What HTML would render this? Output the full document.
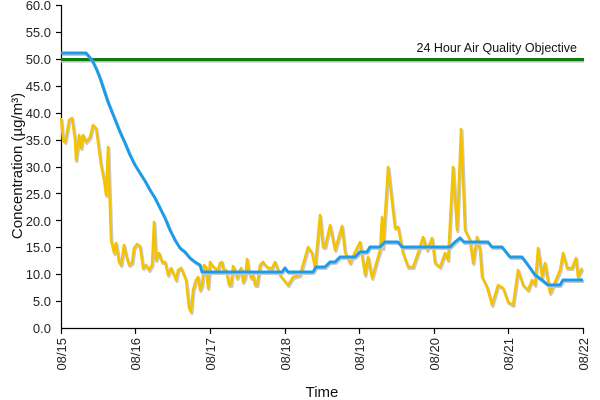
<!DOCTYPE html>
<html><head><style>body{margin:0;background:#fff}svg{display:block;font-family:"Liberation Sans",Arial,sans-serif}</style></head>
<body>
<svg width="600" height="400" viewBox="0 0 600 400">
<defs>
<polyline id="yl" fill="none" stroke-linejoin="round" points="61,118 63,140 65,142 67,132 69,120 72,118 75,140 76,160 79,135 81,148 83,135 86,142 90,137 93,125 96,128 99,150 101,165 104,180 106,195 108,147 109,180 111,240 114,253 116,243 119,262 121,265 124,245 126,255 129,265 132,263 134,248 137,244 140,246 143,268 146,265 149,270 152,265 154,222 156,260 159,253 162,262 165,262 168,275 171,268 174,275 176,280 178,270 181,268 184,275 186,280 189,308 191,312 193,290 196,280 198,277 200,290 202,285 204,265 206,267 208,288 210,262 212,265 215,268 218,270 220,263 222,262 224,272 226,270 229,285 231,285 233,266 235,270 237,278 239,272 241,268 243,282 245,278 247,259 249,272 251,278 253,275 255,285 257,285 260,265 263,262 266,266 269,268 272,268 275,262 278,270 280,275 288,285 293,277 300,275 308,247 312,253 315,268 320,215 323,247 325,247 330,225 335,250 342,226 345,252 350,263 355,252 360,242 365,275 368,257 372,278 380,250 382,217 383,248 388,167 395,228 398,227 403,253 408,267 413,267 418,253 423,237 427,250 432,238 435,263 440,267 445,253 448,260 453,167 457,230 461,129 465,230 470,240 473,263 477,237 480,250 482,277 487,287 492,305 498,285 503,288 508,302 513,305 518,270 523,285 528,290 532,280 535,285 538,248 542,277 545,263 550,293 555,282 560,270 563,253 567,268 572,268 576,258 578,277 582,268"/>
<polyline id="bl" fill="none" stroke-linejoin="round" points="61,53 86,53 92,60 96,68 100,78 104,90 108,102 112,112 116,122 120,132 125,143 130,155 135,165 140,173 145,181 150,190 155,198 160,208 165,218 170,230 175,240 180,248 185,252 190,258 195,262 200,265 202,272 282,272 285,268 288,272 313,272 316,267 325,267 330,262 335,262 340,257 355,257 360,252 367,252 370,247 380,247 385,242 398,242 402,247 450,247 455,242 460,238 464,242 488,242 492,247 502,247 506,252 510,257 522,257 528,265 535,275 542,280 548,285 560,285 563,280 583,280"/>
</defs>
<g font-size="13" fill="#222" text-anchor="end">
<text x="51" y="10">60.0</text><text x="51" y="37">55.0</text><text x="51" y="64">50.0</text>
<text x="51" y="91">45.0</text><text x="51" y="118">40.0</text><text x="51" y="145">35.0</text>
<text x="51" y="172">30.0</text><text x="51" y="199">25.0</text><text x="51" y="226">20.0</text>
<text x="51" y="252">15.0</text><text x="51" y="279">10.0</text><text x="51" y="306">5.0</text>
<text x="51" y="333">0.0</text>
</g>
<g stroke="#000" stroke-width="1.2">
<line x1="61.5" y1="5" x2="61.5" y2="328"/><line x1="61" y1="328.5" x2="584" y2="328.5"/>
<line x1="56" y1="5.5" x2="61" y2="5.5"/><line x1="56" y1="32.5" x2="61" y2="32.5"/><line x1="56" y1="59.5" x2="61" y2="59.5"/>
<line x1="56" y1="86.5" x2="61" y2="86.5"/><line x1="56" y1="113.5" x2="61" y2="113.5"/><line x1="56" y1="140.5" x2="61" y2="140.5"/>
<line x1="56" y1="167.5" x2="61" y2="167.5"/><line x1="56" y1="193.5" x2="61" y2="193.5"/><line x1="56" y1="220.5" x2="61" y2="220.5"/>
<line x1="56" y1="247.5" x2="61" y2="247.5"/><line x1="56" y1="274.5" x2="61" y2="274.5"/><line x1="56" y1="301.5" x2="61" y2="301.5"/>
<line x1="61.5" y1="328" x2="61.5" y2="334"/><line x1="135.5" y1="328" x2="135.5" y2="334"/><line x1="210.5" y1="328" x2="210.5" y2="334"/>
<line x1="285.5" y1="328" x2="285.5" y2="334"/><line x1="359.5" y1="328" x2="359.5" y2="334"/><line x1="434.5" y1="328" x2="434.5" y2="334"/>
<line x1="508.5" y1="328" x2="508.5" y2="334"/><line x1="583.5" y1="328" x2="583.5" y2="334"/>
</g>
<g font-size="13" fill="#222" text-anchor="end">
<text transform="translate(66,338) rotate(-90)">08/15</text>
<text transform="translate(140,338) rotate(-90)">08/16</text>
<text transform="translate(215,338) rotate(-90)">08/17</text>
<text transform="translate(290,338) rotate(-90)">08/18</text>
<text transform="translate(364,338) rotate(-90)">08/19</text>
<text transform="translate(439,338) rotate(-90)">08/20</text>
<text transform="translate(513,338) rotate(-90)">08/21</text>
<text transform="translate(588,338) rotate(-90)">08/22</text>
</g>
<text x="322" y="397" font-size="15" text-anchor="middle" fill="#111">Time</text>
<text transform="translate(22,166) rotate(-90)" font-size="15" text-anchor="middle" fill="#111">Concentration (µg/m³)</text>
<line x1="61" y1="61" x2="584" y2="61" stroke="#bbb" stroke-width="3"/>
<line x1="61" y1="59.5" x2="584" y2="59.5" stroke="#0f7a0f" stroke-width="3"/>
<text x="577" y="52" font-size="12.5" text-anchor="end" fill="#111">24 Hour Air Quality Objective</text>
<use href="#yl" stroke="#c8c8c8" stroke-width="3" transform="translate(1,1.5)"/>
<use href="#yl" stroke="#f5c200" stroke-width="2.5"/>
<use href="#bl" stroke="#c8c8c8" stroke-width="3" transform="translate(1,1.5)"/>
<use href="#bl" stroke="#1e9be8" stroke-width="3"/>
</svg>
</body></html>
